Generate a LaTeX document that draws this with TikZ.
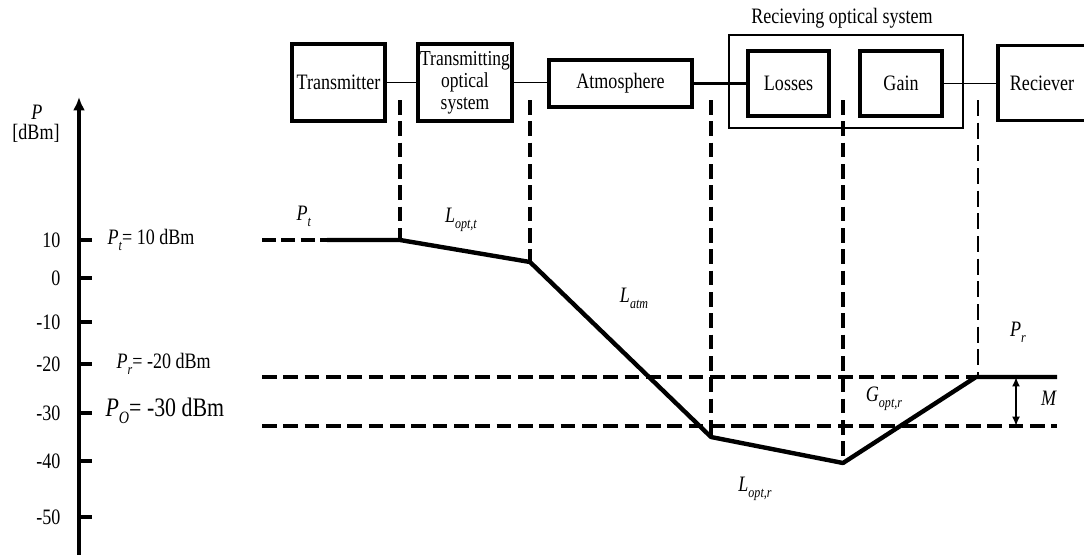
\documentclass[tikz,border=0pt]{standalone}
\usepackage{fontspec}
\setmainfont[FakeStretch=0.82]{Liberation Serif}
\usetikzlibrary{arrows.meta}
\newcommand\symb[2]{\textit{#1}\raisebox{-0.6ex}{\fontsize{11}{11}\selectfont\textit{#2}}}
\begin{document}
\begin{tikzpicture}[x=0.75pt,y=-0.75pt,
  every node/.style={font=\fontsize{16.5}{13.5}\selectfont, inner sep=1pt},
  bx/.style 2 args={draw, line width=2.4pt, minimum width=#1*0.75pt, minimum height=#2*0.75pt, inner sep=0pt, align=center},
  conn/.style={line width=1.4pt},
  dsh/.style={line width=2.3pt, dash pattern=on 11pt off 5pt},
  curve/.style={line width=3.3pt, line join=round},
  tickline/.style={line width=2.5pt}]
\useasboundingbox (0,0) rectangle (1084,554);
\clip (0,0) rectangle (1084,554);
% blocks
\node[bx={93}{77}] (tx) at (338.5,82.5) {Transmitter};
\node[bx={94}{77}, font=\fontsize{16}{16.5}\selectfont] (tos) at (465,82.5) {Transmitting\\optical\\system};
\node[bx={143}{47}] (atm) at (620.5,83.5) {Atmosphere};
\node[draw, line width=2.2pt, minimum width=234*0.75pt, minimum height=93*0.75pt] (ros) at (846,81.5) {};
\node[bx={81}{65}] (los) at (788.5,83.5) {Losses};
\node[bx={82}{65}] (gain) at (901,83.5) {Gain};
\node[bx={88}{75}] (rcv) at (1042,83) {Reciever};
\node (rostitle) at (842,18) {Recieving optical system};
\draw[conn] (tx.east) -- (tos.west);
\draw[conn] (tos.east) -- (tos.east -| atm.west);
\draw[conn, line width=2pt] (atm.east) -- (atm.east -| los.west);
\draw[conn] (gain.east) -- (gain.east -| rcv.west);
% axis
\coordinate (ab) at (79,560);
\coordinate (at) at (79,97);
\draw[line width=2.5pt, -{Latex[length=10pt,width=9pt]}] (ab) -- (at);
\node (axP) at (37,112) {\textit{P}};
\node (axU) at (36,133) {[dBm]};
\foreach \yv/\lab [count=\i] in {240/10, 278/0, 322/-10, 364/-20, 413/-30, 461/-40, 517/-50}{
  \coordinate (tk\i) at (79,\yv);
  \draw[tickline] (tk\i) -- ++(13,0);
  \node[anchor=east] (tl\i) at (62,\yv) {\lab};
}
\node[anchor=west] (ptl) at (106,240) {\symb{P}{t}= 10 dBm};
\node[anchor=west] (prl) at (115,364) {\symb{P}{r}= -20 dBm};
\node[anchor=west, font=\fontsize{20}{20}\selectfont] (pol) at (104,411) {\textit{P}\raisebox{-0.55ex}{\fontsize{13}{13}\selectfont\textit{O}}= -30 dBm};
% power curve
\coordinate (p0) at (262,240);
\coordinate (p1) at (327,240);
\coordinate (p2) at (400,240);
\coordinate (p3) at (530,262);
\coordinate (p4) at (711,437);
\coordinate (p5) at (843,463);
\coordinate (p6) at (976,377);
\coordinate (p7) at (1057,377);
\draw[dsh, line width=2.6pt, dash pattern=on 10.5pt off 4pt] (p0) -- (p1);
\draw[curve] (p1) -- (p2) -- (p3) -- (p4) -- (p5) -- (p6) -- (p7);
% horizontal reference lines
\coordinate (h1a) at (262,377);
\coordinate (h1b) at (1057,377);
\coordinate (h2a) at (262,426);
\coordinate (h2b) at (1057,426);
\draw[dsh] (h1a) -- (h1b);
\draw[dsh] (h2a) -- (h2b);
% vertical separators
\coordinate (v1) at (400,100);
\coordinate (v2) at (530,100);
\coordinate (v3) at (711,100);
\coordinate (v4) at (843,100);
\coordinate (v5) at (978,100);
\draw[dsh] (v1) -- (p2);
\draw[dsh] (v2) -- (p3);
\draw[dsh] (v3) -- (p4);
\draw[dsh] (v4) -- (p5);
\draw[dsh, line width=1.5pt, dash pattern=on 12pt off 5pt] (v5) -- (v5 |- p6);
% margin arrow
\coordinate (ma) at (1016,377);
\coordinate (mb) at (1016,426);
\draw[line width=1.8pt, {Latex[length=7pt,width=6pt]}-{Latex[length=7pt,width=6pt]}] (ma) -- (mb);
% curve labels
\node (lpt) at (304,216) {\symb{P}{t}};
\node (lopt) at (461,220) {\symb{L}{opt,t}};
\node (latm) at (634,298) {\symb{L}{atm}};
\node (loptr) at (755,489) {\symb{L}{opt,r}};
\node (gopt) at (884,399) {\symb{G}{opt,r}};
\node (lpr) at (1018,332) {\symb{P}{r}};
\node (lm) at (1049,398) {\textit{M}};
\end{tikzpicture}
\end{document}
